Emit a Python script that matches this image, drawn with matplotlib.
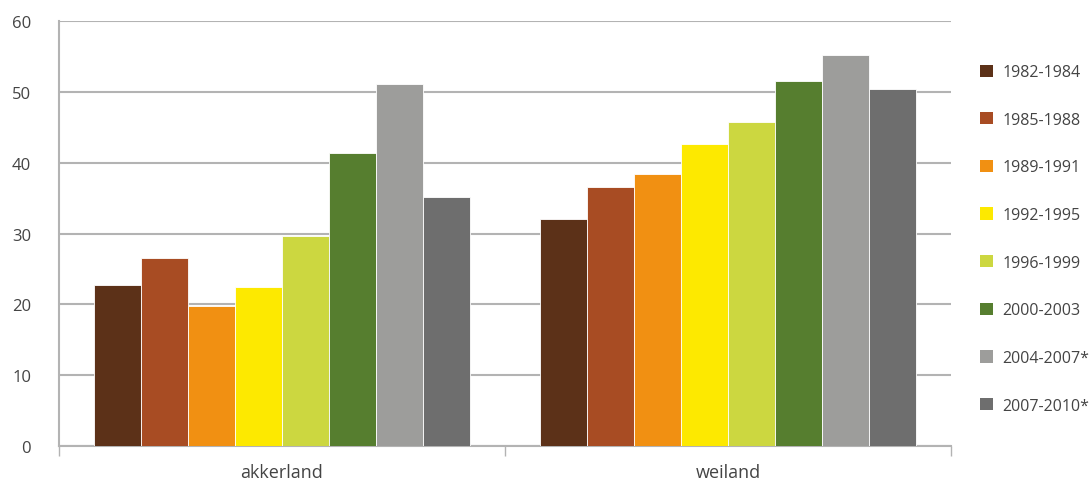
import matplotlib.pyplot as plt
import numpy as np
from matplotlib.patches import Patch

categories = ['akkerland', 'weiland']
periods = ['1982-1984', '1985-1988', '1989-1991', '1992-1995',
           '1996-1999', '2000-2003', '2004-2007*', '2007-2010*']
akkerland = [22.7, 26.6, 19.8, 22.4, 29.7, 41.3, 51.1, 35.1]
weiland = [32.0, 36.5, 38.4, 42.7, 45.8, 51.6, 55.2, 50.4]
colors = ['#5c3118', '#a84c23', '#f19012', '#fde900',
          '#ccd740', '#567e2f', '#9d9d9b', '#6e6e6e']

plt.rcParams['font.family'] = ['Open Sans', 'DejaVu Sans']
text_col = '#444444'
grid_col = '#b3b3b3'

fig = plt.figure(figsize=(10.9, 4.81), dpi=100)
ax = fig.add_axes([0.0541, 0.0707, 0.8184, 0.8835])

values = np.array([akkerland, weiland])
n = len(periods)
group_w = 0.843
bw = group_w / n
x = np.arange(len(categories))
for i in range(n):
    ax.bar(x - group_w / 2 + bw * (i + 0.5), values[:, i], width=bw,
           color=colors[i], edgecolor='#ffffff', linewidth=0.6, zorder=3)

ax.set_xlim(-0.5, 1.5)
ax.set_ylim(0, 60)
ax.set_yticks(range(0, 61, 10))
ax.yaxis.grid(True, color=grid_col, linewidth=1.5, zorder=0)
ax.tick_params(axis='y', length=0, pad=20, labelsize=12, labelcolor=text_col)

ax.set_xticks([-0.5, 0.5, 1.5])
ax.set_xticklabels([])
ax.set_xticks(x, minor=True)
ax.set_xticklabels(categories, minor=True)
ax.tick_params(axis='x', which='major', length=7, width=1, color=grid_col)
ax.tick_params(axis='x', which='minor', length=0, pad=12, labelsize=13,
               labelcolor=text_col)

for side in ['top', 'right']:
    ax.spines[side].set_visible(False)
for side in ['left', 'bottom']:
    ax.spines[side].set_color(grid_col)
    ax.spines[side].set_linewidth(1.5)

handles = [Patch(facecolor=c, edgecolor='none') for c in colors]
leg = fig.legend(handles, periods, loc='upper left',
                 bbox_to_anchor=(0.8915, 0.881), frameon=False,
                 fontsize=11.5, labelspacing=1.98, handlelength=0.81,
                 handleheight=0.81, handletextpad=0.6, borderpad=0)
for t in leg.get_texts():
    t.set_color(text_col)

fig.savefig('out.png', dpi=100)
